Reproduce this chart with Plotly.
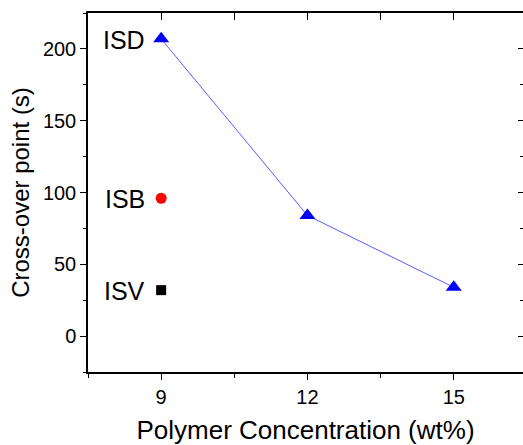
import plotly.graph_objects as go

# Data
conc = [9, 12, 15]
isd_vals = [207, 84, 34]
isb_conc = [9]
isb_vals = [96]
isv_conc = [9]
isv_vals = [32]
labels = ["ISD", "ISB", "ISV"]
label_y = [207, 96, 32]
x_ticks = [9, 12, 15]
y_ticks = [0, 50, 100, 150, 200]

FONT = "Liberation Sans, Arial, sans-serif"
xr = [7.5, 16.42]
yr = [-25, 225]

fig = go.Figure()
fig.add_trace(go.Scatter(x=conc, y=isd_vals, mode="lines+markers",
                         line=dict(color="#5a5aff", width=1),
                         marker=dict(symbol="triangle-up", size=14, color="#0000ff"),
                         showlegend=False))
fig.add_trace(go.Scatter(x=isb_conc, y=isb_vals, mode="markers",
                         marker=dict(symbol="circle", size=11, color="#ff0000"),
                         showlegend=False))
fig.add_trace(go.Scatter(x=isv_conc, y=isv_vals, mode="markers",
                         marker=dict(symbol="square", size=10, color="#000000"),
                         showlegend=False))
# helper trace for mirrored axes
fig.add_trace(go.Scatter(x=[None], y=[None], xaxis="x2", yaxis="y2",
                         showlegend=False, hoverinfo="skip"))

for lab, yv in zip(labels, label_y):
    fig.add_annotation(x=conc[0], y=yv, text=lab, xref="x", yref="y",
                       xanchor="right", yanchor="middle", xshift=-14, yshift=-1,
                       showarrow=False, font=dict(family=FONT, size=25, color="#000"))

fig.update_layout(
    width=523, height=445,
    margin=dict(l=88, r=0, t=13, b=73),
    paper_bgcolor="white", plot_bgcolor="white",
    font=dict(family=FONT, color="#000"),
    xaxis=dict(range=xr, tickvals=x_ticks, ticks="outside", ticklen=6, tickwidth=1.3,
               tickcolor="#000", showline=True, linecolor="#000", linewidth=1.5,
               showgrid=False, zeroline=False, tickfont=dict(size=20),
               minor=dict(tick0=7.5, dtick=1.5, ticks="outside", ticklen=4, tickcolor="#000"),
               title=dict(text="Polymer Concentration (wt%)", font=dict(size=26), standoff=15)),
    yaxis=dict(range=yr, tickvals=y_ticks, ticks="outside", ticklen=6, tickwidth=1.3,
               tickcolor="#000", showline=True, linecolor="#000", linewidth=1.5,
               showgrid=False, zeroline=False, tickfont=dict(size=20),
               minor=dict(tick0=0, dtick=25, ticks="outside", ticklen=3, tickcolor="#000"),
               title=dict(text="Cross-over point (s)", font=dict(size=24), standoff=6)),
    xaxis2=dict(range=xr, overlaying="x", side="top", anchor="y2", tick0=7.5, dtick=1.5,
                ticks="inside", ticklen=7, tickwidth=1.3, tickcolor="#000",
                showline=True, linecolor="#000", linewidth=1.5, showticklabels=False,
                showgrid=False, zeroline=False),
    yaxis2=dict(range=yr, overlaying="y", side="right", anchor="x2", tickvals=y_ticks,
                ticks="inside", ticklen=5, tickwidth=1.3, tickcolor="#000",
                showline=False, showticklabels=False, showgrid=False, zeroline=False,
                minor=dict(tick0=0, dtick=25, ticks="inside", ticklen=3, tickcolor="#000")),
)

fig.write_html("out.html")
